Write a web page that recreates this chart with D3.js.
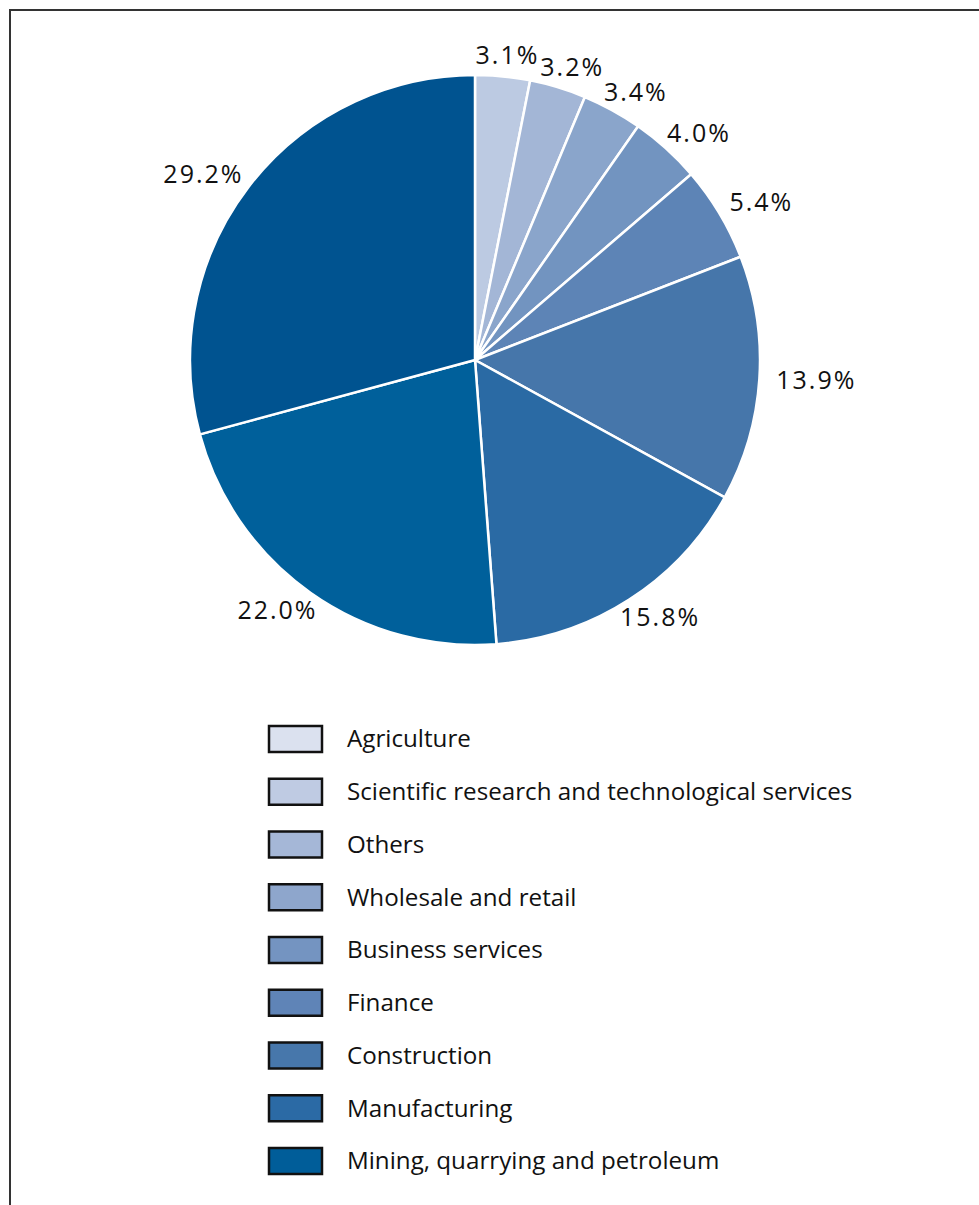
<!DOCTYPE html>
<html>
<head>
<meta charset="utf-8">
<script src="https://cdn.jsdelivr.net/npm/d3@7"></script>
<style>
  body { margin: 0; background: #fff; }
  svg { display: block; font-family: "Open Sans", "Noto Sans", sans-serif; }
  .label { font-size: 25px; fill: #111; letter-spacing: 2px; }
  .legend text { font-size: 24.2px; fill: #111; }
</style>
</head>
<body>
<div id="chart"></div>
<script>
// Chart data
const categories = ["Agriculture", "Scientific research and technological services", "Others",
  "Wholesale and retail", "Business services", "Finance", "Construction",
  "Manufacturing", "Mining, quarrying and petroleum"];
const shares = [3.1, 3.2, 3.4, 4.0, 5.4, 13.9, 15.8, 22.0, 29.2];

// Colours as seen: slices and legend swatches are one step apart in the source
const sliceColors = ["#bccae2", "#a3b6d6", "#8aa5cb", "#7294c0", "#5d84b6",
  "#4676aa", "#2a6aa4", "#00609b", "#005390"];
const legendColors = ["#dbe1ef", "#bfcbe3", "#a5b7d7", "#8ea6cc", "#7494c1",
  "#5f84b7", "#4777ab", "#2b6aa5", "#005d99"];

const fWidth = 979, fHeight = 1205;
const cx = 475, cy = 360, radius = 285;
const labelGap = 17;

const data = categories.map((c, i) => ({ name: c, value: shares[i] }));

const svg = d3.select("#chart").append("svg")
    .attr("width", fWidth)
    .attr("height", fHeight);

// Outer frame (runs off the right and bottom edges)
svg.append("rect")
    .attr("x", 10).attr("y", 10)
    .attr("width", fWidth + 20).attr("height", fHeight + 20)
    .attr("fill", "none")
    .attr("stroke", "#333")
    .attr("stroke-width", 2);

const pie = d3.pie().sort(null).value(d => d.value);
const arcs = pie(data);

const arc = d3.arc().innerRadius(0).outerRadius(radius);

const g = svg.append("g").attr("transform", `translate(${cx}, ${cy})`);

g.selectAll("path")
    .data(arcs)
    .join("path")
    .attr("d", arc)
    .attr("fill", (d, i) => sliceColors[i])
    .attr("stroke", "#fff")
    .attr("stroke-width", 2.5)
    .attr("stroke-linejoin", "round");

// Percentage labels just outside the rim
const labels = g.selectAll("text.label")
    .data(arcs)
    .join("text")
    .attr("class", "label")
    .attr("text-anchor", "middle")
    .attr("dy", "0.35em")
    .text(d => d3.format(".1f")(d.data.value) + "%");

labels.each(function(d) {
  const a = (d.startAngle + d.endAngle) / 2;
  const w = this.getComputedTextLength();
  const h = 8;
  const r = radius + labelGap;
  d3.select(this)
      .attr("x", Math.sin(a) * r + Math.sin(a) * w / 2)
      .attr("y", -Math.cos(a) * r - Math.cos(a) * h / 2);
});

// Legend
const legendY = d3.scalePoint()
    .domain(categories)
    .range([739, 1161]);

const legend = svg.append("g").attr("class", "legend");

const rows = legend.selectAll("g")
    .data(categories)
    .join("g")
    .attr("transform", d => `translate(269, ${legendY(d)})`);

rows.append("rect")
    .attr("x", 0).attr("y", -13)
    .attr("width", 53).attr("height", 26)
    .attr("fill", (d, i) => legendColors[i])
    .attr("stroke", "#111")
    .attr("stroke-width", 2.5);

rows.append("text")
    .attr("x", 78)
    .attr("dy", "0.35em")
    .text(d => d);
</script>
</body>
</html>
